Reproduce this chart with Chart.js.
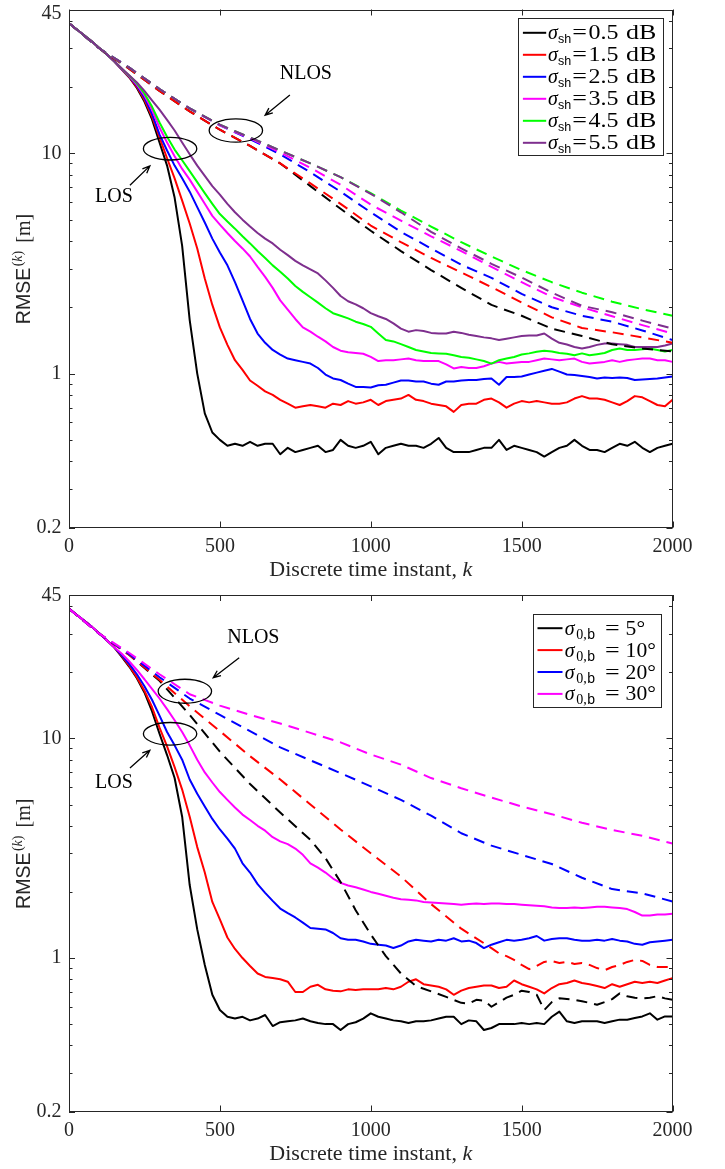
<!DOCTYPE html>
<html>
<head>
<meta charset="utf-8">
<title>RMSE vs discrete time</title>
<script src="https://cdn.jsdelivr.net/npm/chart.js@4.4.0/dist/chart.umd.min.js"></script>
<style>
  body { margin: 0; background: #fff; }
  canvas { position: absolute; left: 0; }
</style>
</head>
<body>
<canvas id="chartSh" width="725" height="585" style="top:0"></canvas>
<canvas id="chartAng" width="725" height="584" style="top:585px"></canvas>
<script>
// ---------- data ----------
// k grid of the solid (LOS) curves, and of the smooth dashed (NLOS) curves
const kSolid = Array.from({ length: 81 }, (_, i) => i * 25);
const kDash = Array.from({ length: 21 }, (_, i) => i * 100);

// upper panel: shadowing std sigma_sh
const sigmaSh = [0.5, 1.5, 2.5, 3.5, 4.5, 5.5];

const shLosBlack = [39, 36.6, 34.4, 32.3, 30.1, 28.2, 26.2, 24.0, 22.1, 19.8, 17.2, 14.3, 11.2, 8.8, 6.3, 3.8, 1.75, 1.0, 0.66, 0.54, 0.50,
  0.47, 0.48, 0.47, 0.49, 0.47, 0.48, 0.48, 0.43, 0.46, 0.44,
  0.45, 0.46, 0.47, 0.44, 0.45, 0.50, 0.47, 0.46, 0.47, 0.49,
  0.43, 0.46, 0.47, 0.48, 0.47, 0.47, 0.46, 0.48, 0.51, 0.46,
  0.44, 0.44, 0.44, 0.45, 0.46, 0.46, 0.50, 0.45, 0.47, 0.46,
  0.45, 0.44, 0.42, 0.44, 0.46, 0.47, 0.50, 0.47, 0.45, 0.45,
  0.44, 0.46, 0.48, 0.47, 0.49, 0.46, 0.44, 0.46, 0.47, 0.48];
const shLosRed = [39, 36.6, 34.4, 32.3, 30.1, 28.2, 26.2, 24.0, 22.2, 20.0, 17.5, 14.7, 11.8, 9.5, 7.7, 6.1, 4.8, 3.7, 2.7, 2.05, 1.62, 1.35, 1.15, 1.04, 0.93, 0.88, 0.83, 0.80,
  0.76, 0.73, 0.70, 0.71, 0.72, 0.71, 0.70, 0.73, 0.72, 0.75,
  0.73, 0.74, 0.76, 0.72, 0.75, 0.76, 0.77, 0.80, 0.76, 0.75,
  0.73, 0.72, 0.71, 0.67, 0.72, 0.73, 0.73, 0.76, 0.77, 0.74,
  0.70, 0.73, 0.75, 0.74, 0.75, 0.74, 0.73, 0.73, 0.74, 0.77,
  0.79, 0.77, 0.77, 0.76, 0.74, 0.72, 0.75, 0.79, 0.78, 0.75,
  0.72, 0.71, 0.76];
const shLosBlue = [39, 36.6, 34.4, 32.3, 30.1, 28.2, 26.2, 24.1, 22.3, 20.3, 17.9, 15.1, 12.2, 10.3, 8.8, 7.7, 6.7, 5.7, 4.85, 4.1, 3.55, 3.1, 2.6, 2.15, 1.77, 1.52, 1.38, 1.28, 1.22, 1.17, 1.15,
  1.13, 1.11, 1.06, 0.99, 0.95, 0.935, 0.90, 0.87, 0.87, 0.865,
  0.885, 0.89, 0.91, 0.93, 0.93, 0.92, 0.92, 0.90, 0.89, 0.92,
  0.92, 0.93, 0.935, 0.935, 0.945, 0.95, 0.89, 0.965, 0.965, 0.97,
  0.99, 1.01, 1.03, 1.05, 1.02, 0.99, 0.985, 0.975, 0.965, 0.95,
  0.96, 0.955, 0.96, 0.955, 0.935, 0.94, 0.945, 0.95, 0.96, 0.97];
const shLosMagenta = [39, 36.6, 34.4, 32.3, 30.1, 28.2, 26.2, 24.1, 22.4, 20.5, 18.3, 15.8, 13.1, 11.2, 9.7, 8.5, 7.6, 6.7, 5.9, 5.2, 4.75, 4.35, 4.0, 3.7, 3.4, 3.05, 2.75, 2.45, 2.15, 1.95, 1.77,
  1.62, 1.55, 1.47, 1.40, 1.32, 1.27, 1.25, 1.24, 1.23, 1.19,
  1.14, 1.15, 1.15, 1.16, 1.17, 1.15, 1.14, 1.14, 1.14, 1.10,
  1.055, 1.07, 1.06, 1.06, 1.08, 1.11, 1.13, 1.11, 1.12, 1.13,
  1.13, 1.15, 1.17, 1.16, 1.15, 1.16, 1.17, 1.13, 1.11, 1.12,
  1.13, 1.15, 1.13, 1.15, 1.16, 1.17, 1.17, 1.15, 1.15, 1.13];
const shLosGreen = [39, 36.6, 34.4, 32.3, 30.1, 28.2, 26.2, 24.2, 22.5, 20.8, 18.7, 16.3, 13.8, 11.9, 10.4, 9.3, 8.3, 7.4, 6.6, 5.9, 5.3, 4.9, 4.55, 4.2, 3.9, 3.6, 3.35, 3.1, 2.9, 2.7, 2.5,
  2.35, 2.22, 2.1, 1.98, 1.88, 1.83, 1.78, 1.72, 1.68, 1.63,
  1.52, 1.42, 1.40, 1.36, 1.32, 1.28, 1.26, 1.24, 1.235, 1.23,
  1.21, 1.19, 1.18, 1.16, 1.14, 1.11, 1.15, 1.17, 1.19, 1.22,
  1.235, 1.255, 1.27, 1.26, 1.24, 1.23, 1.21, 1.235, 1.21, 1.225,
  1.24, 1.28, 1.30, 1.28, 1.28, 1.29, 1.30, 1.28, 1.26, 1.28];
const shLosPurple = [39, 36.6, 34.4, 32.3, 30.1, 28.2, 26.2, 24.3, 22.6, 21.0, 19.2, 17.4, 15.8, 14.2, 12.7, 11.2, 9.9, 8.8, 7.9, 7.1, 6.5, 5.9, 5.4, 5.0, 4.65, 4.35, 4.1, 3.9, 3.65, 3.45, 3.25,
  3.1, 2.97, 2.85, 2.65, 2.45, 2.25, 2.13, 2.06, 1.98, 1.88,
  1.82, 1.77, 1.69, 1.60, 1.55, 1.575, 1.56, 1.53, 1.52, 1.52,
  1.55, 1.53, 1.50, 1.48, 1.46, 1.445, 1.42, 1.44, 1.46, 1.48,
  1.49, 1.49, 1.52, 1.44, 1.38, 1.355, 1.32, 1.30, 1.32, 1.35,
  1.37, 1.37, 1.36, 1.35, 1.32, 1.32, 1.32, 1.32, 1.34, 1.37];

const shNlosBlack = [39, 30, 24.2, 19.2, 15.5, 12.8, 10.8, 9.0, 7.1, 5.6, 4.45, 3.6, 2.95, 2.45, 2.05, 1.83, 1.6, 1.48, 1.36, 1.3, 1.26];
const shNlosRed = [39, 30, 24.2, 19.2, 15.5, 12.8, 10.8, 9.0, 7.3, 5.9, 4.7, 3.95, 3.35, 2.88, 2.47, 2.1, 1.8, 1.61, 1.54, 1.46, 1.38];
const shNlosBlue = [39, 30, 24.5, 19.6, 16.0, 13.4, 11.6, 9.9, 8.2, 6.7, 5.4, 4.4, 3.7, 3.12, 2.72, 2.3, 2.0, 1.83, 1.72, 1.57, 1.42];
const shNlosMagenta = [39, 30, 24.5, 19.6, 16.0, 13.4, 11.7, 10.1, 8.6, 7.2, 5.85, 4.95, 4.2, 3.6, 3.05, 2.6, 2.23, 2.0, 1.82, 1.66, 1.52];
const shNlosGreen = [39, 30, 24.5, 19.6, 16.0, 13.5, 11.8, 10.3, 9.0, 7.8, 6.6, 5.5, 4.65, 3.95, 3.4, 2.95, 2.6, 2.33, 2.12, 1.96, 1.83];
const shNlosPurple = [39, 30, 24.5, 19.6, 16.0, 13.5, 11.8, 10.3, 9.0, 7.8, 6.55, 5.4, 4.4, 3.7, 3.15, 2.73, 2.33, 2.03, 1.9, 1.74, 1.6];

// lower panel: angular std sigma_0,b in degrees
const sigma0b = [5, 10, 20, 30];

const angLosBlack = [39, 36.6, 34.4, 32.3, 30.1, 28.0, 26.0, 23.5, 21.2, 18.8, 16.2, 13.3, 10.5, 8.4, 6.6, 4.4, 2.15, 1.35, 0.93, 0.68, 0.58,
  0.54, 0.53, 0.54, 0.52, 0.53, 0.55, 0.49, 0.51, 0.515, 0.52,
  0.53, 0.515, 0.506, 0.50, 0.50, 0.47, 0.50, 0.51, 0.53, 0.56,
  0.54, 0.53, 0.52, 0.515, 0.506, 0.515, 0.515, 0.52, 0.53, 0.54,
  0.54, 0.50, 0.52, 0.515, 0.47, 0.48, 0.50, 0.50, 0.50, 0.506,
  0.50, 0.506, 0.50, 0.54, 0.57, 0.515, 0.506, 0.515, 0.515, 0.515,
  0.506, 0.515, 0.524, 0.524, 0.533, 0.542, 0.56, 0.524, 0.542, 0.542];
const angLosRed = [39, 36.6, 34.4, 32.3, 30.1, 28.0, 26.0, 23.7, 21.4, 19.0, 16.5, 13.9, 11.2, 9.2, 7.4, 5.85, 4.4, 3.2, 2.45, 1.8, 1.5, 1.24, 1.1, 1.0, 0.92, 0.85, 0.82, 0.81,
  0.80, 0.78, 0.70, 0.70, 0.74, 0.755, 0.72, 0.71, 0.705, 0.72,
  0.715, 0.72, 0.72, 0.72, 0.73, 0.72, 0.74, 0.78, 0.80, 0.76,
  0.75, 0.74, 0.72, 0.68, 0.71, 0.73, 0.74, 0.75, 0.75, 0.73,
  0.74, 0.79, 0.76, 0.74, 0.72, 0.69, 0.73, 0.76, 0.77, 0.79,
  0.77, 0.76, 0.745, 0.73, 0.76, 0.74, 0.76, 0.78, 0.77, 0.78,
  0.77, 0.79, 0.81];
const angLosBlue = [39, 36.6, 34.4, 32.3, 30.1, 28.0, 26.0, 23.9, 21.8, 19.6, 17.3, 15.0, 12.7, 10.7, 9.3, 8.0, 6.5, 5.6, 4.9, 4.3, 3.85, 3.5, 3.15, 2.7, 2.45, 2.17, 1.98, 1.82, 1.68, 1.6, 1.53,
  1.45, 1.37, 1.36, 1.35, 1.30, 1.23, 1.21, 1.21, 1.19, 1.16,
  1.15, 1.14, 1.11, 1.14, 1.19, 1.21, 1.20, 1.19, 1.21, 1.20,
  1.23, 1.19, 1.20, 1.17, 1.11, 1.15, 1.18, 1.21, 1.20, 1.21,
  1.23, 1.26, 1.20, 1.22, 1.23, 1.23, 1.21, 1.20, 1.20, 1.21,
  1.20, 1.22, 1.20, 1.19, 1.16, 1.15, 1.18, 1.19, 1.20, 1.21];
const angLosMagenta = [39, 36.6, 34.4, 32.3, 30.1, 28.0, 26.0, 24.3, 22.4, 20.5, 18.6, 16.8, 15.2, 13.6, 12.1, 10.7, 9.3, 8.0, 7.0, 6.3, 5.7, 5.25, 4.85, 4.5, 4.25, 4.0, 3.8, 3.55, 3.4, 3.3, 3.15,
  2.95, 2.7, 2.58, 2.45, 2.3, 2.2, 2.14, 2.1, 2.05, 2.0,
  1.96, 1.92, 1.88, 1.85, 1.84, 1.83, 1.8, 1.79, 1.78, 1.77,
  1.76, 1.75, 1.76, 1.77, 1.76, 1.77, 1.77, 1.76, 1.76, 1.75,
  1.74, 1.73, 1.72, 1.70, 1.69, 1.69, 1.70, 1.69, 1.70, 1.71,
  1.71, 1.70, 1.69, 1.67, 1.62, 1.56, 1.56, 1.58, 1.58, 1.59];

const kAngNlosBlack = [0, 100, 200, 300, 400, 500, 600, 700, 800, 850, 900, 950, 1000, 1050, 1100, 1150, 1200, 1250, 1300,
  1325, 1350, 1375, 1400, 1425, 1450, 1475, 1500, 1525, 1550, 1575, 1600, 1625, 1650,
  1675, 1700, 1725, 1750, 1775, 1800, 1825, 1850, 1875, 1900, 1925, 1950, 1975, 2000];
const angNlosBlack = [39, 30, 24.0, 18.3, 12.8, 8.7, 6.2, 4.6, 3.45, 2.85, 2.22, 1.65, 1.28, 1.02, 0.85, 0.745, 0.705, 0.665, 0.625,
  0.62, 0.645, 0.64, 0.60, 0.63, 0.66, 0.68, 0.71, 0.70, 0.68, 0.58, 0.63, 0.655, 0.65,
  0.645, 0.635, 0.625, 0.613, 0.63, 0.65, 0.69, 0.67, 0.66, 0.655, 0.66, 0.67, 0.655, 0.645];
const kAngNlosRed = [0, 100, 200, 300, 400, 500, 600, 700, 800, 900, 1000, 1100, 1200, 1300, 1400,
  1425, 1450, 1475, 1500, 1525, 1550, 1575, 1600, 1625, 1650, 1675, 1700,
  1725, 1750, 1775, 1800, 1825, 1850, 1875, 1900, 1925, 1950, 1975, 2000];
const angNlosRed = [39, 30, 24.0, 18.5, 14.0, 10.8, 8.3, 6.5, 5.0, 3.85, 3.0, 2.35, 1.76, 1.36, 1.11,
  1.05, 1.02, 0.98, 0.93, 0.89, 0.92, 0.96, 0.97, 0.95, 0.96, 0.94, 0.95,
  0.93, 0.90, 0.88, 0.91, 0.93, 0.96, 0.98, 0.97, 0.93, 0.91, 0.91, 0.91];
const angNlosBlue = [39, 30, 24.2, 19.0, 15.2, 12.8, 10.8, 9.1, 7.95, 6.95, 6.05, 5.25, 4.45, 3.7, 3.25, 2.95, 2.68, 2.32, 2.06, 1.97, 1.81];
const angNlosMagenta = [39, 30, 24.5, 19.6, 15.9, 14.1, 12.8, 11.7, 10.6, 9.6, 8.45, 7.6, 6.6, 5.93, 5.38, 4.9, 4.52, 4.13, 3.83, 3.6, 3.32];

// axis ticks
const xTicks = [0, 500, 1000, 1500, 2000];
const yTicks = [0.2, 1, 10, 45];
const yMinor = [0.3, 0.4, 0.5, 0.6, 0.7, 0.8, 0.9, 2, 3, 4, 5, 6, 7, 8, 9, 20, 30, 40];

// ---------- styling ----------
const SERIF = '"Liberation Serif", "Times New Roman", serif';
const SANS = '"Liberation Sans", Arial, sans-serif';
const INK = '#262626';
const colorsSh = ['#000000', '#ff0000', '#0000ff', '#ff00ff', '#00ff00', '#7e2f8e'];
const colorsAng = ['#000000', '#ff0000', '#0000ff', '#ff00ff'];

function pts(ks, vs) {
  return vs.map((v, i) => ({ x: ks[i], y: v }));
}

// MATLAB draws later lines on top; Chart.js draws low `order` last
function buildSets(solid, dashed, colors) {
  const sets = [];
  let n = 0;
  solid.forEach((s, i) => sets.push({ data: pts(kSolid, s), borderColor: colors[i], borderWidth: 2, order: 100 - n++ }));
  dashed.forEach((d, i) => sets.push({ data: pts(d.k, d.v), borderColor: colors[i], borderWidth: 2,
    borderDash: [11, 7], order: 100 - n++ }));
  return sets;
}

// text made of runs with their own font, raise (dy), leading gap and horizontal stretch (sx)
function partsWidth(ctx, parts) {
  let w = 0;
  parts.forEach(p => { ctx.font = p.f; w += (p.gap || 0) + ctx.measureText(p.t).width * (p.sx || 1); });
  return w;
}
function drawParts(ctx, parts, x, y) {
  let cx = x;
  parts.forEach(p => {
    ctx.font = p.f;
    cx += p.gap || 0;
    ctx.save();
    ctx.translate(cx, y + (p.dy || 0));
    ctx.scale(p.sx || 1, 1);
    ctx.fillText(p.t, 0, 0);
    ctx.restore();
    cx += ctx.measureText(p.t).width * (p.sx || 1);
  });
  return cx;
}

const shLabel = s => [
  { t: 'σ', f: 'italic 20px ' + SERIF },
  { t: 'sh', f: '12.5px ' + SANS, dy: 4, gap: 0.3 },
  { t: '=', f: '20px ' + SERIF, gap: 1, sx: 1.3 },
  { t: s.toFixed(1), f: '20px ' + SERIF, gap: 1.5, sx: 1.2 },
  { t: 'dB', f: '20px ' + SERIF, gap: 7.5, sx: 1.3 }
];
const angLabel = s => [
  { t: 'σ', f: 'italic 20px ' + SERIF },
  { t: '0,', f: '14px ' + SERIF, dy: 4, gap: 1.5 },
  { t: 'b', f: '14px ' + SANS, dy: 4, gap: 0.5 },
  { t: '=', f: '20px ' + SERIF, gap: 10, sx: 1.3 },
  { t: s + '°', f: '20px ' + SERIF, gap: 6, sx: 1.08 }
];

// box, inward ticks, y labels, axis titles, legend and LOS/NLOS notes
const matlabFrame = {
  id: 'matlabFrame',
  afterDraw(chart, args, opts) {
    const { ctx, chartArea: a, scales: { x, y } } = chart;
    ctx.save();
    ctx.strokeStyle = INK;
    ctx.lineWidth = 1;
    ctx.beginPath();
    xTicks.forEach(k => {
      const px = Math.round(x.getPixelForValue(k)) + 0.5;
      ctx.moveTo(px, a.bottom); ctx.lineTo(px, a.bottom - 6);
      ctx.moveTo(px, a.top); ctx.lineTo(px, a.top + 6);
    });
    yTicks.concat(yMinor).forEach(v => {
      const py = Math.round(y.getPixelForValue(v)) + 0.5;
      const len = yTicks.includes(v) ? 6 : 3.5;
      ctx.moveTo(a.left, py); ctx.lineTo(a.left + len, py);
      ctx.moveTo(a.right, py); ctx.lineTo(a.right - len, py);
    });
    ctx.stroke();
    ctx.strokeRect(Math.round(a.left) + 0.5, Math.round(a.top) + 0.5,
      Math.round(a.right - a.left) - 1, Math.round(a.bottom - a.top) - 1);

    // y tick labels (the top one sits a little below its tick)
    ctx.fillStyle = INK;
    ctx.font = '20px ' + SERIF;
    ctx.textAlign = 'right';
    ctx.textBaseline = 'middle';
    yTicks.forEach(v => ctx.fillText(String(v), a.left - 7.5,
      y.getPixelForValue(v) + (v === yTicks[yTicks.length - 1] ? opts.topShift : 0)));

    // notes: ellipses, arrows and LOS / NLOS text
    ctx.strokeStyle = '#000';
    ctx.fillStyle = '#000';
    ctx.lineWidth = 1.3;
    opts.ellipses.forEach(e => {
      ctx.beginPath();
      ctx.ellipse(x.getPixelForValue(e.k), y.getPixelForValue(e.v), e.rx, e.ry, 0, 0, Math.PI * 2);
      ctx.stroke();
    });
    opts.arrows.forEach(ar => {
      const x0 = x.getPixelForValue(ar.from[0]), y0 = y.getPixelForValue(ar.from[1]);
      const x1 = x.getPixelForValue(ar.to[0]), y1 = y.getPixelForValue(ar.to[1]);
      const ang = Math.atan2(y1 - y0, x1 - x0);
      ctx.beginPath();
      ctx.moveTo(x0, y0); ctx.lineTo(x1, y1);
      ctx.moveTo(x1 - 8 * Math.cos(ang - 0.4), y1 - 8 * Math.sin(ang - 0.4));
      ctx.lineTo(x1, y1);
      ctx.lineTo(x1 - 8 * Math.cos(ang + 0.4), y1 - 8 * Math.sin(ang + 0.4));
      ctx.stroke();
    });
    ctx.font = '20px ' + SERIF;
    ctx.textAlign = 'center';
    opts.labels.forEach(l => ctx.fillText(l.text, x.getPixelForValue(l.k), y.getPixelForValue(l.v)));

    // axis titles
    ctx.fillStyle = INK;
    ctx.textAlign = 'left';
    ctx.textBaseline = 'alphabetic';
    const xt = [{ t: 'Discrete time instant, ', f: '22px ' + SERIF }, { t: 'k', f: 'italic 22px ' + SERIF }];
    drawParts(ctx, xt, (a.left + a.right) / 2 - partsWidth(ctx, xt) / 2, a.bottom + 48.5);
    const yt = [
      { t: 'RMSE', f: '19.5px ' + SANS },
      { t: '(', f: '14px ' + SERIF, dy: -8, gap: 1.5 },
      { t: 'k', f: 'italic 14px ' + SERIF, dy: -8 },
      { t: ')', f: '14px ' + SERIF, dy: -8 },
      { t: '[m]', f: '20px ' + SERIF, gap: 8 }
    ];
    ctx.save();
    ctx.translate(30, (a.top + a.bottom) / 2 + 0.5);
    ctx.rotate(-Math.PI / 2);
    drawParts(ctx, yt, -partsWidth(ctx, yt) / 2, 0);
    ctx.restore();

    // legend (solid curves only)
    const L = opts.legend;
    const bx = Math.round(a.right - L.dxRight - L.w) + 0.5, by = Math.round(a.top + L.dyTop) + 0.5;
    ctx.fillStyle = '#fff';
    ctx.fillRect(bx, by, L.w, L.h);
    ctx.strokeStyle = INK;
    ctx.lineWidth = 1;
    ctx.strokeRect(bx, by, L.w, L.h);
    L.entries.forEach((en, i) => {
      const cy = by + L.row0 + i * L.rowH;
      ctx.strokeStyle = en.color;
      ctx.lineWidth = 2;
      ctx.beginPath();
      ctx.moveTo(bx + L.line0, cy); ctx.lineTo(bx + L.line1, cy);
      ctx.stroke();
      ctx.fillStyle = '#000';
      drawParts(ctx, en.parts, bx + L.textX, cy + 6.5);
    });
    ctx.restore();
  }
};

function makeChart(id, datasets, notes) {
  return new Chart(document.getElementById(id), {
    type: 'line',
    data: { datasets },
    plugins: [matlabFrame],
    options: {
      responsive: false,
      animation: false,
      events: [],
      elements: { point: { radius: 0 }, line: { tension: 0, borderJoinStyle: 'round', fill: false } },
      layout: { padding: { top: notes.padTop, right: 52.5, left: 0, bottom: 0 } },
      plugins: { legend: { display: false }, tooltip: { enabled: false }, matlabFrame: notes },
      scales: {
        x: {
          type: 'linear', min: 0, max: 2000,
          grid: { display: false, drawTicks: false }, border: { display: false },
          ticks: { stepSize: 500, maxRotation: 0, autoSkip: false, padding: 9, color: INK,
            callback: v => String(v), font: { family: SERIF, size: 20, lineHeight: 1 } },
          afterFit: s => { s.height = 57.5; s.paddingLeft = 0; s.paddingRight = 0; }
        },
        y: {
          type: 'logarithmic', min: 0.2, max: 45,
          grid: { display: false, drawTicks: false }, border: { display: false },
          afterBuildTicks: s => { s.ticks = yTicks.map(v => ({ value: v })); },
          ticks: { display: false },
          afterFit: s => { s.width = 69; s.paddingTop = 0; s.paddingBottom = 0; }
        }
      }
    }
  });
}

// upper panel
makeChart('chartSh',
  buildSets([shLosBlack, shLosRed, shLosBlue, shLosMagenta, shLosGreen, shLosPurple],
    [shNlosBlack, shNlosRed, shNlosBlue, shNlosMagenta, shNlosGreen, shNlosPurple].map(v => ({ k: kDash, v })),
    colorsSh),
  {
    padTop: 9.5, topShift: 4,
    ellipses: [{ k: 553, v: 12.7, rx: 26.7, ry: 11.7 }, { k: 335, v: 10.5, rx: 26.7, ry: 11.3 }],
    arrows: [{ from: [732, 18.4], to: [650, 14.9] }, { from: [202, 7.17], to: [268, 8.77] }],
    labels: [{ k: 785, v: 22.9, text: 'NLOS' }, { k: 149, v: 6.33, text: 'LOS' }],
    legend: { dxRight: 9.8, dyTop: 8.8, w: 145, h: 137, row0: 14.3, rowH: 22, line0: 4.4, line1: 27.7, textX: 29.4,
      entries: sigmaSh.map((s, i) => ({ color: colorsSh[i], parts: shLabel(s) })) }
  });

// lower panel
makeChart('chartAng',
  buildSets([angLosBlack, angLosRed, angLosBlue, angLosMagenta],
    [{ k: kAngNlosBlack, v: angNlosBlack }, { k: kAngNlosRed, v: angNlosRed },
     { k: kDash, v: angNlosBlue }, { k: kDash, v: angNlosMagenta }],
    colorsAng),
  {
    padTop: 10, topShift: 1,
    ellipses: [{ k: 384, v: 16.4, rx: 26.7, ry: 12 }, { k: 335, v: 10.5, rx: 26.7, ry: 11.3 }],
    arrows: [{ from: [564, 23.3], to: [478, 18.9] }, { from: [202, 7.34], to: [268, 8.83] }],
    labels: [{ k: 611, v: 28.7, text: 'NLOS' }, { k: 149, v: 6.27, text: 'LOS' }],
    legend: { dxRight: 11.8, dyTop: 19, w: 128, h: 93, row0: 13.7, rowH: 21.9, line0: 4, line1: 29, textX: 31.3,
      entries: sigma0b.map((s, i) => ({ color: colorsAng[i], parts: angLabel(s) })) }
  });
</script>
</body>
</html>
